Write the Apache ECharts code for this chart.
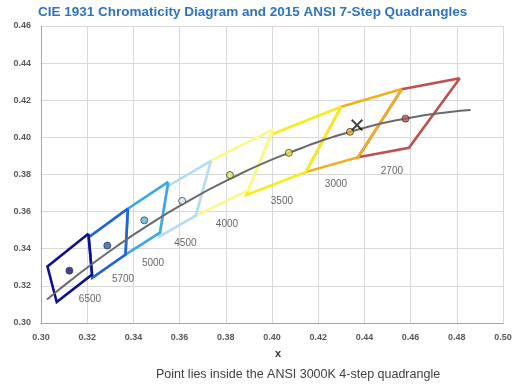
<!DOCTYPE html>
<html>
<head>
<meta charset="utf-8">
<script src="https://cdn.jsdelivr.net/npm/echarts@6/dist/echarts.min.js"></script>
<style>
  html, body { margin: 0; padding: 0; background: #ffffff; }
  #chart { width: 517px; height: 389px; }
</style>
</head>
<body>
<div id="chart"></div>
<script>
// CCT nominal values, warmest first (drawn first so cooler outlines sit on top)
const cctNames = ['2700', '3000', '3500', '4000', '4500', '5000', '5700', '6500'];

// ANSI C78.377 (2015) 7-step quadrangle corners, [x, y]
const quad2700 = [[0.4813, 0.4319], [0.4562, 0.4260], [0.4373, 0.3893], [0.4593, 0.3944]];
const quad3000 = [[0.4562, 0.4260], [0.4299, 0.4165], [0.4147, 0.3814], [0.4373, 0.3893]];
const quad3500 = [[0.4299, 0.4165], [0.3996, 0.4015], [0.3889, 0.3690], [0.4147, 0.3814]];
const quad4000 = [[0.4006, 0.4044], [0.3736, 0.3874], [0.3670, 0.3578], [0.3898, 0.3716]];
const quad4500 = [[0.3736, 0.3874], [0.3548, 0.3736], [0.3512, 0.3465], [0.3670, 0.3578]];
const quad5000 = [[0.3551, 0.3760], [0.3376, 0.3616], [0.3366, 0.3369], [0.3515, 0.3487]];
const quad5700 = [[0.3376, 0.3616], [0.3207, 0.3462], [0.3222, 0.3243], [0.3366, 0.3369]];
const quad6500 = [[0.3205, 0.3481], [0.3028, 0.3304], [0.3068, 0.3113], [0.3221, 0.3261]];
const quads = [quad2700, quad3000, quad3500, quad4000, quad4500, quad5000, quad5700, quad6500];

// Nominal centre points of each quadrangle
const centers = [
  [0.4578, 0.4101], [0.4338, 0.4030], [0.4073, 0.3917], [0.3818, 0.3797],
  [0.3611, 0.3658], [0.3447, 0.3553], [0.3287, 0.3417], [0.3123, 0.3282]
];

// Blackbody (Planckian) locus
const locus = [
  [0.3026, 0.3126], [0.3064, 0.3166], [0.3135, 0.3236], [0.3221, 0.3318],
  [0.3325, 0.3411], [0.3451, 0.3516], [0.3608, 0.3636], [0.3805, 0.3768],
  [0.4053, 0.3907], [0.4369, 0.4041], [0.4599, 0.4106], [0.4770, 0.4137],
  [0.4860, 0.4148]
];

// Measured point
const testPoint = [0.4368, 0.4066];

// Where each CCT caption sits, in chart coordinates
const labelAt = [
  [0.4519, 0.3819], [0.4277, 0.3749], [0.4043, 0.3657], [0.3805, 0.3533],
  [0.3625, 0.3430], [0.3485, 0.3323], [0.3355, 0.3237], [0.3212, 0.3129]
];

const outlineColors = ['#c0504d', '#f2ae1c', '#f7ec1a', '#fbf98e', '#b3ddf4', '#3ea6ea', '#1f63d8', '#10128c'];
const dotColors     = ['#c0504d', '#f0ac2a', '#eee23a', '#e6e46a', '#cfe8f4', '#5ab4e2', '#1f5cc8', '#10107a'];

const series = [];

quads.forEach((q, i) => {
  series.push({
    name: cctNames[i],
    type: 'line',
    data: q.concat([q[0]]),
    showSymbol: false,
    symbol: 'none',
    silent: true,
    lineStyle: { color: outlineColors[i], width: 2.6, join: 'miter' },
    z: 3 + i
  });
});

series.push({
  name: 'locus',
  type: 'line',
  data: locus,
  smooth: true,
  symbol: 'none',
  lineStyle: { color: '#6a6a6a', width: 2 },
  z: 20
});

series.push({
  name: 'centers',
  type: 'scatter',
  data: centers.map((c, i) => ({ value: c, itemStyle: { color: dotColors[i] } })),
  symbolSize: 7,
  itemStyle: { borderColor: '#404040', borderWidth: 1 },
  z: 21
});

series.push({
  name: 'point',
  type: 'scatter',
  data: [testPoint],
  symbol: 'path://M0,1.2 L1.2,0 L5,3.8 L8.8,0 L10,1.2 L6.2,5 L10,8.8 L8.8,10 L5,6.2 L1.2,10 L0,8.8 L3.8,5 Z',
  symbolSize: 12,
  itemStyle: { color: '#111111' },
  z: 22
});

series.push({
  name: 'captions',
  type: 'scatter',
  data: labelAt.map((p, i) => ({ value: p, name: cctNames[i] })),
  symbolSize: 0,
  silent: true,
  label: {
    show: true,
    position: 'inside',
    formatter: '{b}',
    color: '#404040',
    fontSize: 10,
    fontFamily: 'Liberation Sans'
  },
  z: 23
});

const axisLabelStyle = {
  color: '#595959',
  fontSize: 9,
  fontWeight: 'bold',
  fontFamily: 'Liberation Sans',
  formatter: v => v.toFixed(2)
};

const chart = echarts.init(document.getElementById('chart'));
chart.setOption({
  animation: false,
  backgroundColor: '#ffffff',
  grid: { left: 41, right: 14, top: 26, bottom: 66, containLabel: false },
  xAxis: {
    type: 'value',
    min: 0.30, max: 0.50, interval: 0.02,
    axisLine: { show: true, lineStyle: { color: '#a6a6a6' } },
    axisTick: { show: false },
    axisLabel: Object.assign({ margin: 10 }, axisLabelStyle),
    splitLine: { show: true, lineStyle: { color: '#d9d9d9', width: 1 } }
  },
  yAxis: {
    type: 'value',
    min: 0.30, max: 0.46, interval: 0.02,
    axisLine: { show: true, lineStyle: { color: '#a6a6a6' } },
    axisTick: { show: false },
    axisLabel: Object.assign({ margin: 10 }, axisLabelStyle),
    splitLine: { show: true, lineStyle: { color: '#d9d9d9', width: 1 } }
  },
  graphic: [
    {
      type: 'text',
      left: 38,
      top: 5,
      style: {
        text: 'CIE 1931 Chromaticity Diagram and 2015 ANSI 7-Step Quadrangles',
        fill: '#2e74c0',
        font: 'bold 13.5px "Liberation Sans"'
      }
    },
    {
      type: 'text',
      x: 278,
      y: 354,
      style: {
        text: 'x',
        fill: '#333333',
        align: 'center',
        verticalAlign: 'middle',
        font: 'bold 11px "Liberation Sans"'
      }
    },
    {
      type: 'text',
      x: 298,
      y: 375,
      style: {
        text: 'Point lies inside the ANSI 3000K 4-step quadrangle',
        fill: '#404040',
        align: 'center',
        verticalAlign: 'middle',
        font: '12.5px "Liberation Sans"'
      }
    }
  ],
  series: series
});
</script>
</body>
</html>
